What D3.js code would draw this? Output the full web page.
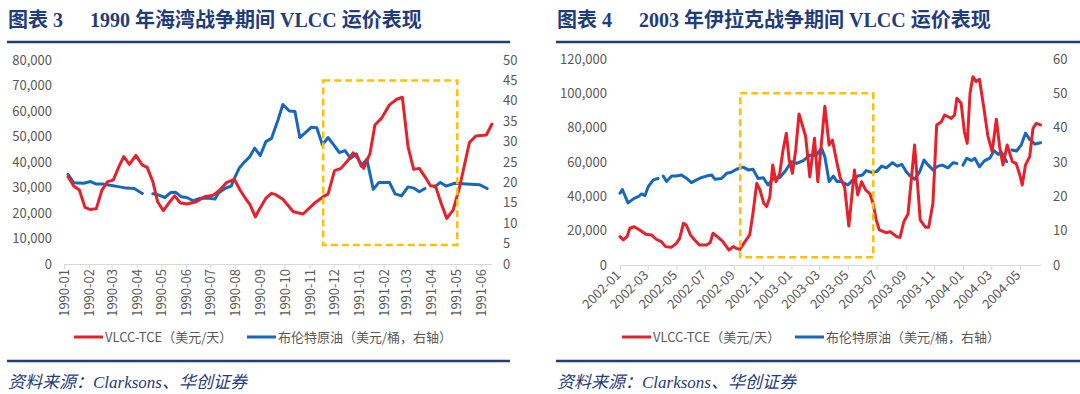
<!DOCTYPE html>
<html>
<head>
<meta charset="utf-8">
<script src="https://cdnjs.cloudflare.com/ajax/libs/d3/7.8.5/d3.min.js"></script>
<style>
  body { margin: 0; background: #fff; }
  svg text { font-family: "Noto Sans CJK SC", "Liberation Sans", sans-serif; }
</style>
</head>
<body>
<svg id="chart" width="1080" height="394"></svg>
<script>
// ---- data: panel 1 (1990 Gulf war) ----
var tce1 = [["1990-01-06",34200],["1990-01-13",30600],["1990-01-20",29000],["1990-01-27",22200],["1990-02-02",21400],
  ["1990-02-10",21700],["1990-02-17",29000],["1990-02-24",32300],["1990-03-03",32900],["1990-03-10",38200],
  ["1990-03-16",42100],["1990-03-23",39100],["1990-03-31",42600],["1990-04-08",38800],["1990-04-14",37900],
  ["1990-04-21",32300],["1990-04-27",24400],["1990-05-04",20900],["1990-05-12",24400],["1990-05-18",26700],
  ["1990-05-25",24000],["1990-06-02",23500],["1990-06-14",24400],["1990-06-24",26400],["1990-07-05",27000],
  ["1990-07-13",29000],["1990-07-21",31900],["1990-07-31",33200],["1990-08-07",29000],["1990-08-15",25100],
  ["1990-08-19",23500],["1990-08-26",18500],["1990-08-31",21500],["1990-09-08",25800],["1990-09-15",27700],
  ["1990-09-20",27200],["1990-09-29",25400],["1990-10-12",20500],["1990-10-24",19600],["1990-11-07",23800],
  ["1990-11-18",26400],["1990-11-24",27400],["1990-12-02",36600],["1990-12-10",37500],["1990-12-19",40800],
  ["1990-12-25",43600],["1990-12-31",41400],["1991-01-07",37500],["1991-01-15",43400],["1991-01-21",54500],
  ["1991-01-29",57100],["1991-02-08",62400],["1991-02-17",64600],["1991-02-24",65400],["1991-03-03",46000],
  ["1991-03-10",37100],["1991-03-17",37500],["1991-03-24",34200],["1991-03-31",30600],["1991-04-06",30600],
  ["1991-04-13",23800],["1991-04-20",17900],["1991-04-28",21200],["1991-05-06",30300],["1991-05-11",37500],
  ["1991-05-18",47600],["1991-05-26",50200],["1991-06-08",50600],["1991-06-15",54900]];

var brent1 = [["1990-01-06",22.0],["1990-01-13",19.9],["1990-01-25",19.8],["1990-02-03",20.2],["1990-02-10",19.6],
  ["1990-02-18",19.6],["1990-02-27",19.3],["1990-03-11",18.9],["1990-03-19",18.6],["1990-03-29",18.5],
  ["1990-04-08",17.3],["1990-04-14",null],["1990-04-21",17.2],["1990-04-27",17.0],["1990-05-06",16.3],
  ["1990-05-13",17.5],["1990-05-19",17.6],["1990-05-26",16.5],["1990-06-02",16.3],["1990-06-10",15.5],
  ["1990-06-18",16.1],["1990-06-28",16.2],["1990-07-07",15.9],["1990-07-11",17.3],["1990-07-19",18.5],
  ["1990-07-27",19.1],["1990-07-31",21.0],["1990-08-06",23.5],["1990-08-13",25.1],["1990-08-19",26.3],
  ["1990-08-25",28.4],["1990-09-01",26.6],["1990-09-08",30.0],["1990-09-15",30.8],["1990-09-23",35.3],
  ["1990-09-29",39.1],["1990-10-07",37.5],["1990-10-14",37.4],["1990-10-20",31.0],["1990-10-26",32.0],
  ["1990-11-03",33.5],["1990-11-10",33.4],["1990-11-17",29.2],["1990-11-24",31.0],["1990-12-01",29.2],
  ["1990-12-08",27.3],["1990-12-15",27.8],["1990-12-22",25.9],["1990-12-29",27.0],["1991-01-04",24.0],
  ["1991-01-11",25.7],["1991-01-19",18.3],["1991-01-26",20.0],["1991-02-08",20.0],["1991-02-15",17.2],
  ["1991-02-23",16.7],["1991-03-03",18.9],["1991-03-10",18.6],["1991-03-17",17.7],["1991-03-24",18.5],
  ["1991-03-30",null],["1991-04-05",18.9],["1991-04-12",20.0],["1991-04-19",19.1],["1991-04-30",19.8],
  ["1991-05-14",19.6],["1991-05-31",19.4],["1991-06-09",18.5]];

var months1 = ["1990-01","1990-02","1990-03","1990-04","1990-05","1990-06","1990-07","1990-08","1990-09",
  "1990-10","1990-11","1990-12","1991-01","1991-02","1991-03","1991-04","1991-05","1991-06"];
var leftTicks1 = [0,10000,20000,30000,40000,50000,60000,70000,80000];
var rightTicks1 = [0,5,10,15,20,25,30,35,40,45,50];
var box1 = { from: "1990-11-18", to: "1991-05-03", top: 72000, bottom: 7500 };

// ---- data: panel 2 (2003 Iraq war) ----
var tce2 = [["2002-01-01",16500],["2002-01-08",14600],["2002-01-16",16500],["2002-01-22",21400],["2002-01-31",22300],
  ["2002-02-12",20400],["2002-02-25",17900],["2002-03-09",17500],["2002-03-19",15000],["2002-03-30",13600],
  ["2002-04-08",10700],["2002-04-20",10300],["2002-05-01",12600],["2002-05-08",15500],["2002-05-16",24300],
  ["2002-05-22",23300],["2002-05-31",17500],["2002-06-09",14600],["2002-06-19",11700],["2002-07-04",11700],
  ["2002-07-12",13000],["2002-07-18",18500],["2002-07-29",16100],["2002-08-08",13600],["2002-08-21",8700],
  ["2002-08-30",10700],["2002-09-06",9700],["2002-09-13",9100],["2002-09-24",13600],["2002-10-04",17500],
  ["2002-10-11",30100],["2002-10-19",47600],["2002-10-26",43700],["2002-11-03",35900],["2002-11-09",34000],
  ["2002-11-16",39800],["2002-11-22",58300],["2002-11-29",48500],["2002-12-07",53400],["2002-12-14",67000],
  ["2002-12-21",76700],["2002-12-27",61200],["2003-01-03",53400],["2003-01-10",67000],["2003-01-17",88000],
  ["2003-01-31",75000],["2003-02-09",51400],["2003-02-19",73800],["2003-02-26",48500],["2003-03-13",92500],
  ["2003-03-22",69900],["2003-03-29",72800],["2003-04-08",59200],["2003-04-15",50500],["2003-04-24",45600],
  ["2003-05-03",22700],["2003-05-15",55300],["2003-05-22",40800],["2003-05-30",48500],["2003-06-08",43700],
  ["2003-06-17",41400],["2003-06-24",35500],["2003-06-30",26600],["2003-07-07",20400],["2003-07-21",18800],
  ["2003-07-30",19400],["2003-08-13",16500],["2003-08-20",16100],["2003-08-28",25200],["2003-09-06",29700],
  ["2003-09-20",69900],["2003-10-02",26200],["2003-10-13",22000],["2003-10-20",22000],["2003-10-29",35900],
  ["2003-11-06",81600],["2003-11-16",83500],["2003-11-23",87400],["2003-12-07",85400],["2003-12-14",87400],
  ["2003-12-19",97100],["2003-12-28",94200],["2004-01-04",77600],["2004-01-10",70900],["2004-01-16",100000],
  ["2004-01-22",109700],["2004-01-29",106800],["2004-02-05",108200],["2004-02-14",92200],["2004-02-23",75100],
  ["2004-03-03",66000],["2004-03-12",84900],["2004-03-19",68900],["2004-03-26",58300],["2004-04-04",69900],
  ["2004-04-15",60200],["2004-04-23",59200],["2004-05-01",52400],["2004-05-06",46600],["2004-05-13",58300],
  ["2004-05-22",63100],["2004-05-29",79600],["2004-06-05",82500],["2004-06-14",81600]];

var brent2 = [["2002-01-01",20.9],["2002-01-06",22.0],["2002-01-18",18.1],["2002-01-31",19.4],["2002-02-09",19.9],
  ["2002-02-16",20.7],["2002-02-23",20.2],["2002-03-02",22.8],["2002-03-13",24.8],["2002-03-23",25.2],
  ["2002-03-28",null],["2002-04-03",25.9],["2002-04-10",24.3],["2002-04-21",25.9],["2002-05-01",25.9],
  ["2002-05-12",26.2],["2002-05-23",25.2],["2002-06-02",24.0],["2002-06-13",24.8],["2002-06-24",25.5],
  ["2002-07-04",25.9],["2002-07-15",26.2],["2002-07-22",25.0],["2002-08-05",25.2],["2002-08-16",26.7],
  ["2002-08-26",27.0],["2002-09-06",27.9],["2002-09-20",28.5],["2002-10-01",27.7],["2002-10-11",27.9],
  ["2002-10-22",25.2],["2002-11-02",25.4],["2002-11-12",23.3],["2002-11-23",25.2],["2002-12-07",25.5],
  ["2002-12-18",27.2],["2003-01-01",30.1],["2003-01-12",29.6],["2003-01-26",30.4],["2003-02-09",32.0],
  ["2003-02-23",32.0],["2003-03-06",34.0],["2003-03-13",31.5],["2003-03-22",24.3],["2003-03-31",25.9],
  ["2003-04-08",24.3],["2003-04-17",24.3],["2003-05-01",23.3],["2003-05-12",24.8],["2003-05-22",25.9],
  ["2003-06-01",26.2],["2003-06-09",27.5],["2003-06-20",27.0],["2003-07-01",27.2],["2003-07-12",28.8],
  ["2003-07-22",28.3],["2003-08-04",29.8],["2003-08-14",28.8],["2003-08-24",29.3],["2003-09-02",27.2],
  ["2003-09-10",26.0],["2003-09-20",25.0],["2003-10-01",27.2],["2003-10-10",30.6],["2003-10-19",29.1],
  ["2003-10-29",27.7],["2003-11-09",28.8],["2003-11-18",29.1],["2003-11-30",28.3],["2003-12-11",29.8],
  ["2003-12-19",29.6],["2003-12-25",null],["2004-01-01",29.1],["2004-01-09",31.1],["2004-01-19",30.4],
  ["2004-01-26",31.1],["2004-02-05",28.6],["2004-02-16",30.4],["2004-02-27",31.1],["2004-03-07",33.3],
  ["2004-03-16",32.2],["2004-03-23",32.8],["2004-04-03",30.1],["2004-04-08",null],["2004-04-14",33.5],
  ["2004-04-24",33.2],["2004-05-04",35.0],["2004-05-13",38.4],["2004-05-22",36.6],["2004-06-02",35.2],
  ["2004-06-14",35.6]];

var months2 = ["2002-01","2002-03","2002-05","2002-07","2002-09","2002-11","2003-01","2003-03","2003-05",
  "2003-07","2003-09","2003-11","2004-01","2004-03","2004-05"];
var leftTicks2 = [0,20000,40000,60000,80000,100000,120000];
var rightTicks2 = [0,10,20,30,40,50,60];
var box2 = { from: "2002-09-14", to: "2003-06-24", top: 100000, bottom: 4500 };

var legendNames = ["VLCC-TCE（美元/天）", "布伦特原油（美元/桶，右轴）"];
var source = "资料来源：Clarksons、华创证券";

// ---- drawing ----
var RED = "#e8202a", BLUE = "#1767bf", NAVY = "#1f3c7c", GREY = "#595959", AXIS = "#d9d9d9";
var parseDay = d3.timeParse("%Y-%m-%d"), parseMonth = d3.timeParse("%Y-%m");
var svg = d3.select("#chart");

function drawPanel(p) {
  var g = svg.append("g");

  // title + rule
  var t = g.append("text").attr("y", 27).attr("fill", NAVY)
    .style("font-family", '"Liberation Serif", "Noto Sans CJK SC", serif')
    .style("font-weight", "bold").style("font-size", "20px");
  t.append("tspan").attr("x", p.left).text(p.titleNo);
  t.append("tspan").attr("x", p.left + 82).text(p.title);
  g.append("line").attr("x1", p.left - 1).attr("x2", p.ruleEnd).attr("y1", 42).attr("y2", 42)
    .attr("stroke", NAVY).attr("stroke-width", 2.5);

  var x = d3.scaleTime().domain([parseDay(p.start), parseDay(p.end)]).range([p.x0, p.x1]);
  var yL = d3.scaleLinear().domain([0, p.leftTicks[p.leftTicks.length - 1]]).range([p.y0, p.y1]);
  var yR = d3.scaleLinear().domain([0, p.rightTicks[p.rightTicks.length - 1]]).range([p.y0, p.y1]);

  var la = g.append("g").attr("transform", "translate(" + p.x0 + ",0)")
    .call(d3.axisLeft(yL).tickValues(p.leftTicks).tickSize(0).tickPadding(p.x0 - p.leftLabelX).tickFormat(d3.format(",")));
  var ra = g.append("g").attr("transform", "translate(" + p.x1 + ",0)")
    .call(d3.axisRight(yR).tickValues(p.rightTicks).tickSize(0).tickPadding(p.rightLabelX - p.x1));
  [la, ra].forEach(function(a) {
    a.select(".domain").remove();
    a.selectAll("text").attr("fill", GREY).style("font-size", "13px").style("font-family", null);
  });

  var xa = g.append("g").attr("transform", "translate(0," + p.y0 + ")")
    .call(d3.axisBottom(x).tickValues(p.months.map(parseMonth)).tickSize(5).tickFormat(d3.timeFormat("%Y-%m")));
  xa.select(".domain").attr("stroke", AXIS).attr("d", "M" + p.x0 + ",0.5H" + p.x1);
  xa.selectAll(".tick line").attr("stroke", AXIS);
  var xt = xa.selectAll("text").attr("fill", GREY).style("font-size", "13px").style("font-family", null)
    .style("text-anchor", "end");
  if (p.rotate === -90) {
    xt.attr("transform", "rotate(-90)").attr("x", -5).attr("y", 0).attr("dy", "0.35em");
  } else {
    xt.attr("transform", "rotate(-45)").attr("x", -7).attr("y", 4).attr("dy", "0.35em");
  }

  var redLine = d3.line().defined(function(d) { return d[1] != null; })
    .x(function(d) { return x(parseDay(d[0])); }).y(function(d) { return yL(d[1]); });
  var blueLine = d3.line().defined(function(d) { return d[1] != null; })
    .x(function(d) { return x(parseDay(d[0])); }).y(function(d) { return yR(d[1]); });

  g.append("path").datum(p.brent).attr("d", blueLine).attr("fill", "none").attr("stroke", BLUE)
    .attr("stroke-width", 3).attr("stroke-linejoin", "round").attr("stroke-linecap", "round");
  g.append("path").datum(p.tce).attr("d", redLine).attr("fill", "none").attr("stroke", RED)
    .attr("stroke-width", 3).attr("stroke-linejoin", "round").attr("stroke-linecap", "round");

  // highlight box
  var bx0 = x(parseDay(p.box.from)), bx1 = x(parseDay(p.box.to));
  g.append("rect").attr("x", bx0).attr("y", yL(p.box.top))
    .attr("width", bx1 - bx0).attr("height", yL(p.box.bottom) - yL(p.box.top))
    .attr("fill", "none").attr("stroke", "#ffc000").attr("stroke-width", 2.5).attr("stroke-dasharray", "7,4");

  // legend
  [RED, BLUE].forEach(function(c, i) {
    var lx = p.legendX[i];
    g.append("line").attr("x1", lx).attr("x2", lx + 29).attr("y1", 337).attr("y2", 337)
      .attr("stroke", c).attr("stroke-width", 3);
    g.append("text").attr("x", lx + 31).attr("y", 337).attr("dy", "0.35em").attr("fill", GREY)
      .style("font-size", "13px").text(legendNames[i]);
  });

  // source
  g.append("line").attr("x1", p.left - 1).attr("x2", p.ruleEnd).attr("y1", 361).attr("y2", 361)
    .attr("stroke", NAVY).attr("stroke-width", 2.5);
  g.append("text").attr("x", p.left).attr("y", 388).attr("fill", NAVY)
    .style("font-family", '"Liberation Serif", "Noto Sans CJK SC", serif')
    .style("font-style", "italic").style("font-size", "17px").text(source);
}

drawPanel({ left: 8, ruleEnd: 510, titleNo: "图表 3", title: "1990 年海湾战争期间 VLCC 运价表现",
  start: "1990-01-01", end: "1991-06-15", x0: 64, x1: 492, y0: 264, y1: 60,
  leftLabelX: 52, rightLabelX: 503, months: months1, leftTicks: leftTicks1, rightTicks: rightTicks1,
  tce: tce1, brent: brent1, box: box1, rotate: -90, legendX: [74, 247] });

drawPanel({ left: 557, ruleEnd: 1080, titleNo: "图表 4", title: "2003 年伊拉克战争期间 VLCC 运价表现",
  start: "2002-01-01", end: "2004-06-15", x0: 620, x1: 1041, y0: 265, y1: 59,
  leftLabelX: 607, rightLabelX: 1053, months: months2, leftTicks: leftTicks2, rightTicks: rightTicks2,
  tce: tce2, brent: brent2, box: box2, rotate: -45, legendX: [622, 795] });
</script>
</body>
</html>
